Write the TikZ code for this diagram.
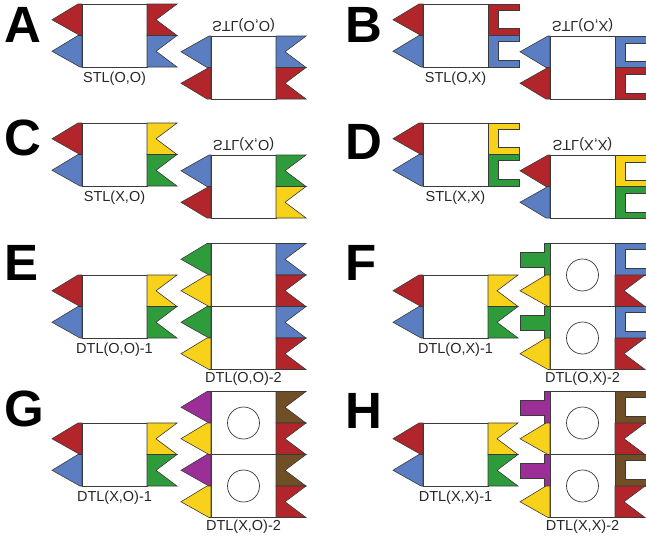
\documentclass[tikz,border=0pt]{standalone}
\usepackage{fontspec}
\setmainfont{Liberation Sans}
\usepackage{tikz}
\usepackage{xcolor}
\definecolor{tileRed}   {HTML}{B2252A}
\definecolor{tileBlue}  {HTML}{5B7DC1}
\definecolor{tileYellow}{HTML}{F8D21A}
\definecolor{tileGreen} {HTML}{2F9C3B}
\definecolor{tilePurple}{HTML}{9C2F97}
\definecolor{tileBrown} {HTML}{704F27}
\definecolor{tileLine}  {HTML}{3A3A3A}
\tikzset{
  dom/.style  = {draw=tileLine, line width=0.6pt},
  body/.style = {draw=tileLine, fill=white, line width=0.8pt},
  ring/.style = {draw=tileLine, line width=0.7pt},
  tag/.style  = {anchor=base, inner sep=0pt,
                 font=\fontsize{14.5}{16}\selectfont, text=black!85},
  panel/.style= {anchor=base west, inner sep=0pt,
                 font=\fontsize{51}{51}\selectfont\bfseries},
}
% domains: #1 colour, #2 top of the domain (body is 65 wide, domain 31.5 high)
\newcommand{\armL}[2]{\filldraw[dom, fill=#1] (0,#2) -- +(-4,0) -- +(-30,15.75)
  -- +(-2,31.5) -- +(0,31.5) -- cycle;}
\newcommand{\tabL}[2]{\filldraw[dom, fill=#1] (0,#2) -- +(-6,0) -- +(-6,9)
  -- +(-30,9) -- +(-30,24) -- +(-6,24) -- +(-6,31.5) -- +(0,31.5) -- cycle;}
\newcommand{\notchR}[2]{\filldraw[dom, fill=#1] (65,#2) -- +(30,0) -- +(9,15.75)
  -- +(30,31.5) -- +(0,31.5) -- cycle;}
\newcommand{\slotR}[2]{\filldraw[dom, fill=#1] (65,#2) -- +(31,0) -- +(31,6)
  -- +(10,6) -- +(10,24.5) -- +(31,24.5) -- +(31,31.5) -- +(0,31.5) -- cycle;}
% single tile: #1 #2 left colours, #3 #4 right domains, #5 name, #6 label
\newcommand{\tileS}[6]{
  \draw[body] (0,0) rectangle (65,63);
  \armL{#1}{0} \armL{#2}{31.5}
  #3{0} #4{31.5}
  \node[tag] (#5) at (32.5,78) {#6};}
% double tile: #1 #2 left domains, #3 #4 right domains, #5 name, #6 label
\newcommand{\tileD}[6]{
  \draw[body] (0,0) rectangle (65,126) (0,63) -- (65,63);
  #1{0} #2{31.5} #1{63} #2{94.5}
  #3{0} #4{31.5} #3{63} #4{94.5}
  \node[tag] (#5) at (32.5,139) {#6};}

\begin{document}
\begin{tikzpicture}[x=1pt, y=-1pt]
  \useasboundingbox (0,0) rectangle (646,538);
  \clip (0,0) rectangle (646,538);

  % row 1
  \node[panel] (pA) at (4,42) {A};
  \begin{scope}[shift={(82,4)}]
    \tileS{tileRed}{tileBlue}{\notchR{tileRed}}{\notchR{tileBlue}}{labA1}{STL(O,O)}
  \end{scope}
  \begin{scope}[shift={(211,99)}, yscale=-1, transform shape]
    \tileS{tileRed}{tileBlue}{\notchR{tileRed}}{\notchR{tileBlue}}{labA2}{STL(O,O)}
  \end{scope}
  \node[panel] (pB) at (345,42) {B};
  \begin{scope}[shift={(423,4)}]
    \tileS{tileRed}{tileBlue}{\slotR{tileRed}}{\slotR{tileBlue}}{labB1}{STL(O,X)}
  \end{scope}
  \begin{scope}[shift={(550,99)}, yscale=-1, transform shape]
    \tileS{tileRed}{tileBlue}{\slotR{tileRed}}{\slotR{tileBlue}}{labB2}{STL(O,X)}
  \end{scope}

  % row 2
  \node[panel] (pC) at (4,155) {C};
  \begin{scope}[shift={(82,123)}]
    \tileS{tileRed}{tileBlue}{\notchR{tileYellow}}{\notchR{tileGreen}}{labC1}{STL(X,O)}
  \end{scope}
  \begin{scope}[shift={(211,218)}, yscale=-1, transform shape]
    \tileS{tileRed}{tileBlue}{\notchR{tileYellow}}{\notchR{tileGreen}}{labC2}{STL(X,O)}
  \end{scope}
  \node[panel] (pD) at (345,159) {D};
  \begin{scope}[shift={(423,123)}]
    \tileS{tileRed}{tileBlue}{\slotR{tileYellow}}{\slotR{tileGreen}}{labD1}{STL(X,X)}
  \end{scope}
  \begin{scope}[shift={(550,218)}, yscale=-1, transform shape]
    \tileS{tileBlue}{tileRed}{\slotR{tileGreen}}{\slotR{tileYellow}}{labD2}{STL(X,X)}
  \end{scope}

  % row 3
  \node[panel] (pE) at (4,280) {E};
  \begin{scope}[shift={(82,275)}]
    \tileS{tileRed}{tileBlue}{\notchR{tileYellow}}{\notchR{tileGreen}}{labE1}{DTL(O,O)-1}
  \end{scope}
  \begin{scope}[shift={(211,243.5)}]
    \tileD{\armL{tileGreen}}{\armL{tileYellow}}{\notchR{tileBlue}}{\notchR{tileRed}}{labE2}{DTL(O,O)-2}
  \end{scope}
  \node[panel] (pF) at (345,280) {F};
  \begin{scope}[shift={(423,275)}]
    \tileS{tileRed}{tileBlue}{\notchR{tileYellow}}{\notchR{tileGreen}}{labF1}{DTL(O,X)-1}
  \end{scope}
  \begin{scope}[shift={(550,243.5)}]
    \tileD{\tabL{tileGreen}}{\armL{tileYellow}}{\slotR{tileBlue}}{\notchR{tileRed}}{labF2}{DTL(O,X)-2}
    \draw[ring] (32.5,31.5) circle[radius=16] (32.5,94.5) circle[radius=16];
  \end{scope}

  % row 4
  \node[panel] (pG) at (4,426) {G};
  \begin{scope}[shift={(82,423)}]
    \tileS{tileRed}{tileBlue}{\notchR{tileYellow}}{\notchR{tileGreen}}{labG1}{DTL(X,O)-1}
  \end{scope}
  \begin{scope}[shift={(211,391.5)}]
    \tileD{\armL{tilePurple}}{\armL{tileYellow}}{\notchR{tileBrown}}{\notchR{tileRed}}{labG2}{DTL(X,O)-2}
    \draw[ring] (32.5,31.5) circle[radius=16] (32.5,94.5) circle[radius=16];
  \end{scope}
  \node[panel] (pH) at (345,428) {H};
  \begin{scope}[shift={(423,423)}]
    \tileS{tileRed}{tileBlue}{\notchR{tileYellow}}{\notchR{tileGreen}}{labH1}{DTL(X,X)-1}
  \end{scope}
  \begin{scope}[shift={(550,391.5)}]
    \tileD{\tabL{tilePurple}}{\armL{tileYellow}}{\slotR{tileBrown}}{\notchR{tileRed}}{labH2}{DTL(X,X)-2}
    \draw[ring] (32.5,31.5) circle[radius=16] (32.5,94.5) circle[radius=16];
  \end{scope}
\end{tikzpicture}
\end{document}
